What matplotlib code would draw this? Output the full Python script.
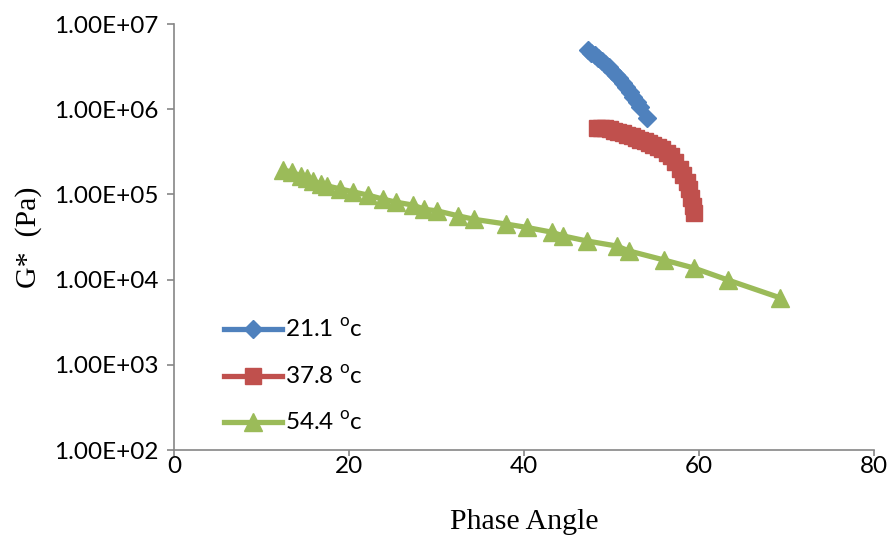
import matplotlib
matplotlib.use("Agg")
import matplotlib.pyplot as plt
from matplotlib.ticker import FixedLocator, FuncFormatter

# phase angle (deg) and complex modulus G* (Pa) for each temperature
angle_21 = [47.3, 47.7, 48.1, 48.5, 48.9, 49.3, 49.7, 50.1, 50.5, 50.9,
            51.3, 51.7, 52.1, 52.5, 52.9, 53.3, 54.1]
gstar_21 = [4.9e6, 4.6e6, 4.3e6, 4.0e6, 3.7e6, 3.4e6, 3.1e6, 2.8e6, 2.55e6, 2.3e6,
            2.05e6, 1.8e6, 1.6e6, 1.4e6, 1.2e6, 1.05e6, 7.9e5]

angle_38 = [48.3, 48.8, 49.3, 49.8, 50.3, 50.8, 51.3, 51.8, 52.3, 52.8,
            53.3, 53.8, 54.3, 54.8, 55.3, 55.8, 56.3, 56.8, 57.3, 57.8,
            58.2, 58.6, 58.9, 59.1, 59.3, 59.4]
gstar_38 = [6.1e5, 6.05e5, 6.0e5, 5.8e5, 5.6e5, 5.4e5, 5.2e5, 5.0e5, 4.8e5, 4.6e5,
            4.4e5, 4.2e5, 4.0e5, 3.8e5, 3.6e5, 3.4e5, 3.1e5, 2.8e5, 2.4e5, 2.0e5,
            1.7e5, 1.4e5, 1.15e5, 9.2e4, 7.4e4, 6.0e4]

angle_54 = [12.5, 13.5, 14.5, 15.2, 15.9, 16.8, 17.5, 19.0, 20.5, 22.2,
            23.9, 25.4, 27.3, 28.6, 30.1, 32.5, 34.3, 37.9, 40.3, 43.2,
            44.5, 47.2, 50.6, 52.0, 56.0, 59.4, 63.3, 69.3]
gstar_54 = [1.93e5, 1.83e5, 1.64e5, 1.56e5, 1.44e5, 1.32e5, 1.26e5, 1.16e5, 1.07e5, 9.8e4,
            8.8e4, 8.1e4, 7.5e4, 6.7e4, 6.4e4, 5.6e4, 5.1e4, 4.5e4, 4.1e4, 3.6e4,
            3.25e4, 2.84e4, 2.48e4, 2.17e4, 1.70e4, 1.37e4, 9.9e3, 6.1e3]

labels = [r"21.1 $^{\mathregular{o}}$c", r"37.8 $^{\mathregular{o}}$c", r"54.4 $^{\mathregular{o}}$c"]
x_ticks = [0, 20, 40, 60, 80]
y_ticks = [1e2, 1e3, 1e4, 1e5, 1e6, 1e7]

plt.rcParams["font.family"] = ["Lato", "DejaVu Sans"]

fig = plt.figure(figsize=(8.9, 5.42), dpi=100)
ax = fig.add_axes([0.1955, 0.1697, 0.7865, 0.786])

ax.plot(angle_21, gstar_21, color="#4F81BD", lw=3.8, marker="D", ms=9.5,
        label=labels[0])
ax.plot(angle_38, gstar_38, color="#C0504D", lw=3.8, marker="s", ms=12,
        label=labels[1])
ax.plot(angle_54, gstar_54, color="#9BBB59", lw=3.8, marker="^", ms=13,
        label=labels[2])

ax.set_yscale("log")
ax.set_xlim(0, 80)
ax.set_ylim(1e2, 1e7)
ax.xaxis.set_major_locator(FixedLocator(x_ticks))
ax.yaxis.set_major_locator(FixedLocator(y_ticks))
ax.yaxis.set_minor_locator(FixedLocator([]))
ax.yaxis.set_major_formatter(FuncFormatter(lambda v, p: "%.2E" % v))

for s in ["top", "right"]:
    ax.spines[s].set_visible(False)
for s in ["left", "bottom"]:
    ax.spines[s].set_color("#868686")
    ax.spines[s].set_linewidth(1.2)
ax.tick_params(axis="both", direction="out", length=5, width=1.2,
               color="#868686", labelsize=17.5)
ax.tick_params(axis="x", pad=0, length=4)
ax.tick_params(axis="y", pad=6)

ax.set_xlabel("Phase Angle", family="Liberation Serif", fontsize=21.5, labelpad=23)
ax.set_ylabel("G*  (Pa)", family="Liberation Serif", fontsize=21.5, labelpad=9)

ax.legend(loc="lower left", bbox_to_anchor=(0.04, -0.015), frameon=False,
          fontsize=17.5, handlelength=2.4, handletextpad=0.1, labelspacing=0.95)

fig.savefig("out.png", dpi=100)
